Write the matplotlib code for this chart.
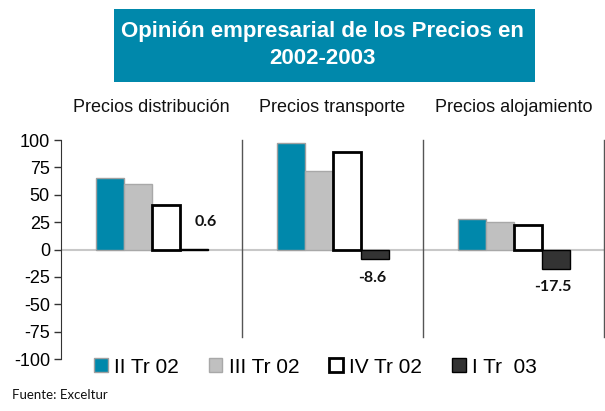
import numpy as np
import matplotlib.pyplot as plt
from matplotlib.patches import Rectangle, Patch
from matplotlib.transforms import blended_transform_factory

# -------------------------------------------------
# Data
# -------------------------------------------------
panels = ['Precios distribución', 'Precios transporte', 'Precios alojamiento']
series = ['II Tr 02', 'III Tr 02', 'IV Tr 02', 'I Tr  03']
ii_tr_02 = [65, 97, 28]
iii_tr_02 = [60, 72, 25]
iv_tr_02 = [41, 89, 22]
i_tr_03 = [0.6, -8.6, -17.5]
yticks = [100, 75, 50, 25, 0, -25, -50, -75, -100]

values = [ii_tr_02, iii_tr_02, iv_tr_02, i_tr_03]

teal = '#0088AB'
styles = [
    dict(facecolor=teal, edgecolor='#a0a0a0', linewidth=1),
    dict(facecolor='#c0c0c0', edgecolor='#a8a8a8', linewidth=1),
    dict(facecolor='white', edgecolor='black', linewidth=2),
    dict(facecolor='#333333', edgecolor='black', linewidth=1),
]

plt.rcParams['font.family'] = ['Liberation Sans', 'DejaVu Sans']
plt.rcParams['axes.unicode_minus'] = False

W, H = 605, 411
fig = plt.figure(figsize=(W / 100, H / 100), dpi=100)

# title box
fig.patches.append(Rectangle((114 / W, 1 - 82 / H), (535 - 114) / W, (82 - 9) / H,
                             transform=fig.transFigure, facecolor=teal, edgecolor='none'))
fig.text(322 / W, 1 - 45 / H, 'Opinión empresarial de los Precios en\n2002-2003',
         ha='center', va='center', color='white', fontsize=16, fontweight='bold',
         linespacing=1.4)

ax = fig.add_axes([61 / W, 1 - 359 / H, (604 - 61) / W, (359 - 140) / H])

bar_w = 28 / 181
x = np.arange(len(panels)) + 0.5
for k, (vals, st) in enumerate(zip(values, styles)):
    ax.bar(x + (k - 1.5) * bar_w, vals, width=bar_w, zorder=3, **st)

# value labels for the last series
last_x = x + 1.5 * bar_w
for xi, v in zip(last_x, i_tr_03):
    if v > 0:
        ax.annotate(f'{v}', (xi, v), xytext=(9, 19), textcoords='offset points',
                    ha='center', va='center', fontsize=11.5, fontweight='bold',
                    family=['Lato', 'DejaVu Sans'], color='#111111')
    else:
        ax.annotate(f'{v}', (xi, v), xytext=(-2, -13.5), textcoords='offset points',
                    ha='center', va='center', fontsize=11.5, fontweight='bold',
                    family=['Lato', 'DejaVu Sans'], color='#111111')

ax.axhline(0, color='#c8c8c8', linewidth=1.5, zorder=2)
for sep in [1, 2, 3]:
    ax.axvline(sep, ymin=0.1, ymax=1, color='#555555', linewidth=1, clip_on=False)

ax.set_xlim(0, 3)
ax.set_ylim(-100, 100)
ax.set_xticks([])
ax.set_yticks(yticks)
ax.tick_params(axis='y', direction='out', length=5, width=1, labelsize=13, pad=3,
               color='#333333')
for s in ['top', 'right', 'bottom']:
    ax.spines[s].set_visible(False)
ax.spines['left'].set_color('#333333')

trans = blended_transform_factory(ax.transData, fig.transFigure)
for xi, name in zip(x, panels):
    ax.text(xi, 1 - 108 / H, name, transform=trans, ha='center', va='center',
            fontsize=13, color='#111111')

handles = [Patch(**st) for st in styles]
fig.legend(handles, series, loc='center left', bbox_to_anchor=(94 / W, 1 - 367 / H),
           ncol=4, frameon=False, fontsize=15, handlelength=0.65, handleheight=0.65,
           handletextpad=0.3, columnspacing=1.45, borderpad=0, borderaxespad=0)

fig.text(12 / W, 1 - 395 / H, 'Fuente: Exceltur', ha='left', va='center',
         fontsize=9.5, family=['Lato', 'DejaVu Sans'], color='#111111')

plt.savefig('out.png', dpi=100)
